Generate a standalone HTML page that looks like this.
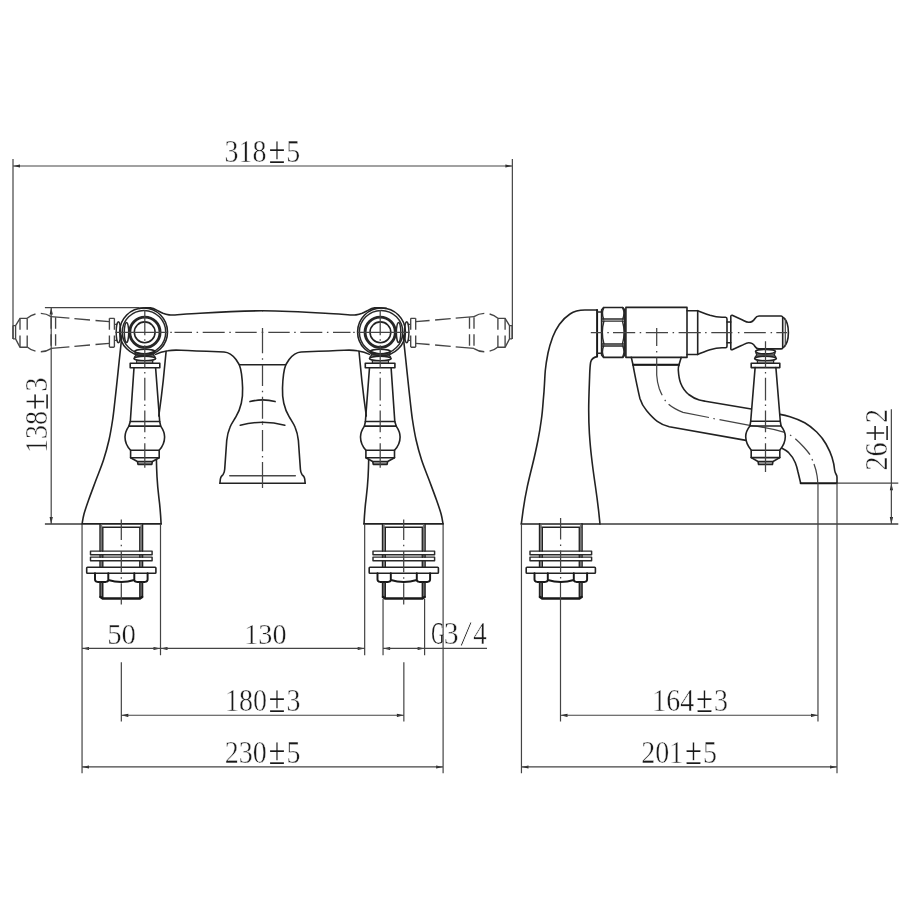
<!DOCTYPE html>
<html lang="en"><head><meta charset="utf-8"><title>Bath filler technical drawing</title>
<style>
html,body{margin:0;padding:0;background:#fff;}
body{width:900px;height:900px;overflow:hidden;}
svg{display:block;filter:grayscale(1);}
.k2{fill:none;stroke:#484848;stroke-width:1.6;stroke-linecap:round;}
.k{fill:none;stroke:#222;stroke-width:1.6;stroke-linecap:round;stroke-linejoin:round;}
.kb{fill:none;stroke:#181818;stroke-width:1.95;stroke-linecap:round;stroke-linejoin:round;}
.kk{fill:none;stroke:#262626;stroke-width:2.9;}
.m{fill:none;stroke:#2a2a2a;stroke-width:1.45;stroke-linecap:round;stroke-linejoin:round;}
.g{fill:none;stroke:#8a8a8a;stroke-width:1.6;}
.gf{fill:#aaa;stroke:none;}
.gw{fill:none;stroke:#777;stroke-width:1.6;}
.n2{fill:none;stroke:#3c3c3c;stroke-width:1.35;}
.n{fill:none;stroke:#444;stroke-width:1.2;}
.c{fill:none;stroke:#444;stroke-width:1.25;}
.h{fill:none;stroke:#454545;stroke-width:1.35;}
.hd{fill:none;stroke:#454545;stroke-width:1.35;stroke-dasharray:11.5 5.6;}
.hd2{fill:none;stroke:#454545;stroke-width:1.35;stroke-dasharray:9.4 5.3 30;}
.a{fill:#1a1a1a;stroke:none;}
.pm{stroke-width:0.2px;}
.sl{stroke-width:0.8px;}
text{font-family:"Liberation Serif","DejaVu Serif",serif;fill:#1a1a1a;stroke:#fff;stroke-width:0.45px;paint-order:fill stroke;stroke-linejoin:round;}
</style></head>
<body>
<svg width="900" height="900" viewBox="0 0 900 900">
<rect x="0" y="0" width="900" height="900" fill="#fff"/>
<g id="front">
<g id="fl">
<path class="h" d="M13,325.6 V338.9 M13,325.6 H15.6 M13,338.9 H15.6 M15.6,325.6 V338.9 M15.6,325.6 L20,318.3 H27.2 M15.6,338.9 L20,347.2 H27.2"/>
<path class="hd" d="M20,318.3 V347.2 M27.2,318.3 V347.2 M51.1,317.2 V347.8 M55.6,317.2 V347.8"/>
<path class="hd2" d="M27.2,318.3 A20,20 0 0 1 51.1,316.6"/>
<path class="hd2" d="M27.2,346.9 A20,20 0 0 0 51.1,348.6"/>
<path class="h" d="M51.1,316.60 L69.4,318.20 M74.4,318.64 L90,320.00 M95.5,320.48 L109.4,321.70 M51.1,348.40 L69.4,346.80 M74.4,346.36 L90,345.00 M95.5,344.52 L109.4,343.30"/>
<path class="hd" d="M109.4,318.3 V347.2 M114.4,318.3 V347.2"/>
<path class="h" d="M109.4,318.3 H114.4 M109.4,347.2 H114.4 M114.4,324.4 H117.3 M114.4,340.4 H117.3"/>
<ellipse class="m" cx="118.4" cy="332.3" rx="2.2" ry="10.5"/>
<ellipse class="m" cx="126.5" cy="332.4" rx="2.2" ry="10"/>
<circle class="k" cx="143.6" cy="331.9" r="23.9"/>
<circle class="m" cx="144" cy="332.2" r="21.7"/>
<circle class="kk" cx="144.9" cy="332.3" r="15.15"/>
<circle class="k" cx="144.7" cy="332.3" r="10.4"/>
<path class="k" d="M139,308.4 C142,307.7 146,307.5 150.4,307.9 C153,308.3 155,309.2 156.7,310.1 C159,311.3 161,312.5 162.9,313.3 C165,314.1 167,314.6 169.1,314.85 C171,315.1 173,315.1 175,314.95 C183,314.4 191,313.8 200,313.3 C222,311.9 244,310.8 262.5,310.8"/>
<path class="k" d="M155.6,354.4 C159,352.6 163,351.5 167.8,350.8 C171,350.2 176,350 181,350.3 C195,351 210,351.5 224,352 C229.5,352.4 233,355.5 236,359.5 L239.3,364.7 C241,369 242.3,378 242.6,388 C242.8,394 242.6,398 241.3,403.3 C240,409 238.5,412.5 236,416.7 C233.5,421 231.5,423.5 230,427.3 C228,432 227.2,436 226.7,440.7 L224.7,469.3 C224.6,471.5 224.2,473 223,474.7 C222,475.8 221.2,476.4 220.8,477.5 C220.4,478.6 220.2,480 220.1,481.5 L220,483.3"/>
<path class="k" d="M239.3,364.7 H262.5"/>
<path class="k" d="M219.8,483.3 H262.5"/>
<path class="k2" d="M229.8,475.8 H262.5"/>
<path class="k" d="M250,401.6 Q256,400 262.5,399.9"/>
<path class="k" d="M240.3,425.2 Q251,422.3 262.5,422.3"/>
<path class="k" d="M122.00,335.00 C121.55,339.17 120.10,352.50 119.30,360.00 C118.50,367.50 117.95,373.00 117.20,380.00 C116.45,387.00 115.57,395.33 114.80,402.00 C114.03,408.67 113.57,413.67 112.60,420.00 C111.63,426.33 110.52,433.33 109.00,440.00 C107.48,446.67 105.67,453.33 103.50,460.00 C101.33,466.67 98.48,473.33 96.00,480.00 C93.52,486.67 90.60,494.33 88.60,500.00 C86.60,505.67 85.09,510.00 84.00,514.00 C82.91,518.00 82.38,522.33 82.05,524.00"/>
<path class="k" d="M166.1,351.5 C165,362 164,372 163.3,380 C162,392 160.5,404 158.8,416"/>
<path class="k" d="M156.4,459.2 C156.5,465 156.7,471 157,476.7 C157.4,484 158.1,491 158.9,497.8 C160,506 160.6,514 161.1,523.9"/>
<ellipse class="k" cx="144.8" cy="351.5" rx="10.2" ry="2.25" fill="#fff"/>
<path class="m" d="M136.2,355 H153.4 M135.4,353.2 L136.2,355 L134.6,356.9 M154.2,353.2 L153.4,355 L155,356.9"/>
<ellipse class="k" cx="144.8" cy="358.5" rx="10.9" ry="2.25" fill="#fff"/>
<path class="m" d="M136.8,360.3 V363.3 M152.6,360.3 V363.3"/><path class="g" d="M137.5,362 H152"/>
<rect class="k" x="130.2" y="363.3" width="29.6" height="4.4"/>
<path class="k" d="M134,367.7 L130.3,421.5 H159.7 L155.6,367.7"/>
<path class="k" d="M130.3,421.5 L128.9,426.1 H160.7 L159.7,421.5"/>
<path class="k" d="M128.9,426.1 C126.2,430 125,433.5 125,437 C125,442 127,446.5 130.6,450.3 M160.7,426.1 C163.4,430 164.6,433.5 164.6,437 C164.6,442 162.6,446.5 159.2,450.3"/>
<path class="k" d="M130.6,450.3 H159.2 V457.7 H130.6 Z"/>
<path class="gf" d="M137.6,461.5 H152.2 L151.8,464.4 H138 Z"/>
<path class="k" d="M130.6,457.7 L137.4,461.5 L138,464.4 H151.8 L152.4,461.5 L159.2,457.7 M137.4,461.5 H152.4"/>
<path class="k" d="M82,523.9 H161.1"/>
<path class="k" d="M100.1,523.9 V551.1 M142.5,523.9 V551.1 M102.7,527.2 V551.1 M139.9,527.2 V551.1 M100.1,527.2 H142.5"/>
<path class="k" d="M100.1,554.7 V557.2 M142.5,554.7 V557.2 M102.7,554.7 V557.2 M139.9,554.7 V557.2"/>
<path class="k" d="M100.1,560.7 V567.2 M142.5,560.7 V567.2 M102.7,560.7 V567.2 M139.9,560.7 V567.2"/>
<path class="gw" d="M101.4,524.5 V551.1 M141.2,524.5 V551.1"/>
<path class="gw" d="M101.4,554.7 V557.2 M141.2,554.7 V557.2"/>
<path class="gw" d="M101.4,560.7 V567.2 M141.2,560.7 V567.2"/>
<path class="gw" d="M101.4,582.5 V597.5 M141.2,582.5 V597.5"/>
<rect class="m" x="90.5" y="551.1" width="61.6" height="3.6"/>
<rect class="m" x="90.5" y="557.1" width="61.6" height="3.6"/>
<rect class="k" x="86.7" y="567.3" width="69.2" height="6" rx="0.8"/>
<path class="kb" d="M95.0,573.3 V579.5 Q95.0,581.6 97.5,581.9 H105.8 Q108.3,581.6 108.3,580 V573.3 M108.3,580 Q121.3,584 134.3,580 V573.3 M134.3,580 Q134.3,581.6 136.8,581.9 H145.1 Q147.6,581.6 147.6,579.5 V573.3"/>
<path class="k" d="M100.1,582 V597 M102.7,582.5 V598 M139.9,582.5 V598 M142.5,582 V597"/>
<path class="kb" style="stroke-width:2.5" d="M100.5,597 L102.7,598.6 H139.9 L142.1,597"/>
</g>
<g transform="matrix(-1 0 0 1 525.1 0)">
<path class="h" d="M13,325.6 V338.9 M13,325.6 H15.6 M13,338.9 H15.6 M15.6,325.6 V338.9 M15.6,325.6 L20,318.3 H27.2 M15.6,338.9 L20,347.2 H27.2"/>
<path class="hd" d="M20,318.3 V347.2 M27.2,318.3 V347.2 M51.1,317.2 V347.8 M55.6,317.2 V347.8"/>
<path class="hd2" d="M27.2,318.3 A20,20 0 0 1 51.1,316.6"/>
<path class="hd2" d="M27.2,346.9 A20,20 0 0 0 51.1,348.6"/>
<path class="h" d="M51.1,316.60 L69.4,318.20 M74.4,318.64 L90,320.00 M95.5,320.48 L109.4,321.70 M51.1,348.40 L69.4,346.80 M74.4,346.36 L90,345.00 M95.5,344.52 L109.4,343.30"/>
<path class="hd" d="M109.4,318.3 V347.2 M114.4,318.3 V347.2"/>
<path class="h" d="M109.4,318.3 H114.4 M109.4,347.2 H114.4 M114.4,324.4 H117.3 M114.4,340.4 H117.3"/>
<ellipse class="m" cx="118.4" cy="332.3" rx="2.2" ry="10.5"/>
<ellipse class="m" cx="126.5" cy="332.4" rx="2.2" ry="10"/>
<circle class="k" cx="143.6" cy="331.9" r="23.9"/>
<circle class="m" cx="144" cy="332.2" r="21.7"/>
<circle class="kk" cx="144.9" cy="332.3" r="15.15"/>
<circle class="k" cx="144.7" cy="332.3" r="10.4"/>
<path class="k" d="M139,308.4 C142,307.7 146,307.5 150.4,307.9 C153,308.3 155,309.2 156.7,310.1 C159,311.3 161,312.5 162.9,313.3 C165,314.1 167,314.6 169.1,314.85 C171,315.1 173,315.1 175,314.95 C183,314.4 191,313.8 200,313.3 C222,311.9 244,310.8 262.5,310.8"/>
<path class="k" d="M155.6,354.4 C159,352.6 163,351.5 167.8,350.8 C171,350.2 176,350 181,350.3 C195,351 210,351.5 224,352 C229.5,352.4 233,355.5 236,359.5 L239.3,364.7 C241,369 242.3,378 242.6,388 C242.8,394 242.6,398 241.3,403.3 C240,409 238.5,412.5 236,416.7 C233.5,421 231.5,423.5 230,427.3 C228,432 227.2,436 226.7,440.7 L224.7,469.3 C224.6,471.5 224.2,473 223,474.7 C222,475.8 221.2,476.4 220.8,477.5 C220.4,478.6 220.2,480 220.1,481.5 L220,483.3"/>
<path class="k" d="M239.3,364.7 H262.5"/>
<path class="k" d="M219.8,483.3 H262.5"/>
<path class="k2" d="M229.8,475.8 H262.5"/>
<path class="k" d="M250,401.6 Q256,400 262.5,399.9"/>
<path class="k" d="M240.3,425.2 Q251,422.3 262.5,422.3"/>
<path class="k" d="M122.00,335.00 C121.55,339.17 120.10,352.50 119.30,360.00 C118.50,367.50 117.95,373.00 117.20,380.00 C116.45,387.00 115.57,395.33 114.80,402.00 C114.03,408.67 113.57,413.67 112.60,420.00 C111.63,426.33 110.52,433.33 109.00,440.00 C107.48,446.67 105.67,453.33 103.50,460.00 C101.33,466.67 98.48,473.33 96.00,480.00 C93.52,486.67 90.60,494.33 88.60,500.00 C86.60,505.67 85.09,510.00 84.00,514.00 C82.91,518.00 82.38,522.33 82.05,524.00"/>
<path class="k" d="M166.1,351.5 C165,362 164,372 163.3,380 C162,392 160.5,404 158.8,416"/>
<path class="k" d="M156.4,459.2 C156.5,465 156.7,471 157,476.7 C157.4,484 158.1,491 158.9,497.8 C160,506 160.6,514 161.1,523.9"/>
<ellipse class="k" cx="144.8" cy="351.5" rx="10.2" ry="2.25" fill="#fff"/>
<path class="m" d="M136.2,355 H153.4 M135.4,353.2 L136.2,355 L134.6,356.9 M154.2,353.2 L153.4,355 L155,356.9"/>
<ellipse class="k" cx="144.8" cy="358.5" rx="10.9" ry="2.25" fill="#fff"/>
<path class="m" d="M136.8,360.3 V363.3 M152.6,360.3 V363.3"/><path class="g" d="M137.5,362 H152"/>
<rect class="k" x="130.2" y="363.3" width="29.6" height="4.4"/>
<path class="k" d="M134,367.7 L130.3,421.5 H159.7 L155.6,367.7"/>
<path class="k" d="M130.3,421.5 L128.9,426.1 H160.7 L159.7,421.5"/>
<path class="k" d="M128.9,426.1 C126.2,430 125,433.5 125,437 C125,442 127,446.5 130.6,450.3 M160.7,426.1 C163.4,430 164.6,433.5 164.6,437 C164.6,442 162.6,446.5 159.2,450.3"/>
<path class="k" d="M130.6,450.3 H159.2 V457.7 H130.6 Z"/>
<path class="gf" d="M137.6,461.5 H152.2 L151.8,464.4 H138 Z"/>
<path class="k" d="M130.6,457.7 L137.4,461.5 L138,464.4 H151.8 L152.4,461.5 L159.2,457.7 M137.4,461.5 H152.4"/>
<path class="k" d="M82,523.9 H161.1"/>
<path class="k" d="M100.1,523.9 V551.1 M142.5,523.9 V551.1 M102.7,527.2 V551.1 M139.9,527.2 V551.1 M100.1,527.2 H142.5"/>
<path class="k" d="M100.1,554.7 V557.2 M142.5,554.7 V557.2 M102.7,554.7 V557.2 M139.9,554.7 V557.2"/>
<path class="k" d="M100.1,560.7 V567.2 M142.5,560.7 V567.2 M102.7,560.7 V567.2 M139.9,560.7 V567.2"/>
<path class="gw" d="M101.4,524.5 V551.1 M141.2,524.5 V551.1"/>
<path class="gw" d="M101.4,554.7 V557.2 M141.2,554.7 V557.2"/>
<path class="gw" d="M101.4,560.7 V567.2 M141.2,560.7 V567.2"/>
<path class="gw" d="M101.4,582.5 V597.5 M141.2,582.5 V597.5"/>
<rect class="m" x="90.5" y="551.1" width="61.6" height="3.6"/>
<rect class="m" x="90.5" y="557.1" width="61.6" height="3.6"/>
<rect class="k" x="86.7" y="567.3" width="69.2" height="6" rx="0.8"/>
<path class="kb" d="M95.0,573.3 V579.5 Q95.0,581.6 97.5,581.9 H105.8 Q108.3,581.6 108.3,580 V573.3 M108.3,580 Q121.3,584 134.3,580 V573.3 M134.3,580 Q134.3,581.6 136.8,581.9 H145.1 Q147.6,581.6 147.6,579.5 V573.3"/>
<path class="k" d="M100.1,582 V597 M102.7,582.5 V598 M139.9,582.5 V598 M142.5,582 V597"/>
<path class="kb" style="stroke-width:2.5" d="M100.5,597 L102.7,598.6 H139.9 L142.1,597"/>
</g>
<path class="c" d="M115.4,332.4 H167.5 M170.3,332.4 H171.8 M174.5,332.4 H192 M196.6,332.4 H198.1 M202.7,332.4 H224.7 M229.3,332.4 H230.8 M235.3,332.4 H256.7 M409.6,332.4 H357.5 M354.7,332.4 H353.2 M350.5,332.4 H333 M328.4,332.4 H326.9 M322.3,332.4 H300.3 M295.7,332.4 H294.2 M289.7,332.4 H268.3 M261.7,332.4 H263.3"/>
<path class="c" d="M262.5,328 V353.3 M262.5,358.3 V359.8 M262.5,364.7 V386 M262.5,390.8 V392.3 M262.5,396.7 V418.7 M262.5,423.3 V424.8 M262.5,430 V451.3 M262.5,456 V457.5 M262.5,462 V488"/>
<path class="c" d="M144.8,310 V335.3 M144.8,339.3 V340.8 M144.8,345.3 V367.8 M144.8,372 V373.5 M144.8,377.8 V400.6 M144.8,404.6 V406.1 M144.8,410.6 V432.2 M144.8,437 V438.5 M144.8,443.3 V467.8"/>
<path class="c" d="M380.2,310 V335.3 M380.2,339.3 V340.8 M380.2,345.3 V367.8 M380.2,372 V373.5 M380.2,377.8 V400.6 M380.2,404.6 V406.1 M380.2,410.6 V432.2 M380.2,437 V438.5 M380.2,443.3 V467.8"/>
<path class="c" d="M121.3,519.4 V540 M121.3,544.8 V546.3 M121.3,551 V572.3 M121.3,577.2 V578.7 M121.3,583.3 V604.4"/>
<path class="c" d="M403.7,519.4 V540 M403.7,544.8 V546.3 M403.7,551 V572.3 M403.7,577.2 V578.7 M403.7,583.3 V604.4"/>
</g>
<g id="side">
<path class="k" d="M596.9,310 H585 C578,310 573.5,311.5 570,314 C565.5,317 562,320.5 559.3,324.5 C556.5,328.5 554.5,332.5 552.7,337 C550.5,343 549,348 548,353 C546.8,359 545.8,365 545.3,370.5 C544.8,376 544.8,379 544.5,383.5 C544.2,390 543.8,395 543.2,401 C542.7,408 542.2,414 541.3,420 C540.3,427.5 539.3,433.5 538,440 C536.3,448.5 534.7,456 532.7,464 C530.7,472 528.8,479.5 527.3,486.7 C525.3,496 523.8,505 522.7,513.3 L521.3,524" />
<path class="k" d="M596.9,356.6 C593.5,357.3 591.5,359 590.7,362 C589.9,366 589.8,371.5 589.6,377 C589.2,388 588.7,399 588.7,410 C588.7,418 588.9,426 589.4,433.5 C589.9,441 590.5,448.5 591.4,456 C592.5,466 593.9,476 595.3,485.5 C596.9,496.5 598.3,507 599.3,517.3 L600,524" />
<path class="kb" d="M597.1,310 V356.6" />
<path class="m" d="M597,311.9 H601.6 M597,353.3 H601.6" />
<path class="k" d="M603.6,307.5 H622.8 L624.8,310 V354.9 L622.8,357.4 H603.6 L601.6,354.9 V310 Z" />
<path class="m" d="M601.6,319 H624.8 M601.6,321.1 H624.8 M601.6,343.9 H624.8 M601.6,346 H624.8" />
<path class="m" d="M603.8000000000001,307.6 Q601.2,313 603.6,319 M622.5999999999999,307.6 Q625.1999999999999,313 622.8,319" />
<path class="m" d="M603.8000000000001,357.3 Q601.2,352 603.6,346 M622.5999999999999,357.3 Q625.1999999999999,352 622.8,346" />
<path class="m" d="M603.9,321.1 Q600.7,332.5 603.9,343.9 M622.5,321.1 Q625.6999999999999,332.5 622.5,343.9" />
<rect class="k" x="625.9" y="307.4" width="61.1" height="50" />
<path class="k" d="M631.3,357.4 L633,364.7 H679 L681.2,357.4" />
<path class="kb" d="M633,364.7 H679" />
<path class="k" d="M687,310.7 H697.7 V354.5 H687" />
<path class="k" d="M697.7,310.7 C702,312.3 706,314 710,315.3 C714.5,316.6 718.5,317.2 722,317.3 H725.5 Q727,317.4 727,319 V346.2 Q727,347.7 725.5,347.8 H722 C718.5,347.9 714.5,348.5 710,349.8 C706,351 702,352.8 697.7,354.5" />
<path class="k" d="M727,322 H730.8 M727,342.8 H730.8" />
<path class="k" d="M732.2,315.3 L742,319.8 C745,321.3 746.5,322.3 748.7,322.3 C751.5,322.3 753.5,321 755,318.5 C756,316.8 757,316 759,316 H781.2 Q782.7,316.1 782.7,317.5 V347.4 Q782.7,348.8 781.2,348.9 H759 C757,348.9 756,348.2 755,346.5 C753.5,344 751.5,342.8 748.7,342.8 C746.5,342.8 745,343.8 742,345.3 L732.2,349.8 Q730.8,350 730.8,348.5 V316.6 Q730.8,315 732.2,315.3 Z" />
<path class="k" d="M783.6,317.6 C786.8,320.5 788.4,326 788.4,332.5 C788.4,339 786.8,344.5 783.6,347.4" />
<path class="n" d="M785.3,318.5 V346.5" />
<path class="k" d="M633,364.7 C634,371 635.3,377 636.6,383.3 C638,390 639,395 640,398.7 C641.5,403.5 643.5,407 646.7,410.7 C650,414.7 653.5,418.5 657.3,421.3 C661,424 664.5,425.7 669.3,426.7 L746,440.4" />
<path class="k" d="M679,364.7 C678.3,367 678.2,368.5 678.3,370 C678.6,375 679.2,379.5 680.7,383.3 C682.5,388 685,391.5 688.7,394.5 C692,397 695.5,399 699.3,400 C701.5,400.6 703.5,400.9 705.3,401.2 L751.3,409" />
<path class="k" d="M780,414.4 C783.5,415 786.5,415.7 790,416.8 C795.5,418.5 800.5,420.5 804.7,422.8 C809,425.3 813,428.5 816.7,432 C820.5,435.8 823.5,439.5 826,444 C828.5,448.5 830.5,452.5 832,457.3 C833.5,462 834.3,466 834.7,470.5 C835,472.5 835.6,473.5 836.2,474.5 C836.8,475.5 837,476.5 837,477.5 V483.2" />
<path class="k" d="M782,448.3 C784.5,449.5 786.5,450.7 788.7,452.7 C791.5,455.5 793.7,458.8 795.3,462.7 C796.5,465.7 797.3,468.5 798,472 L800.7,483.2" />
<path class="kb" d="M800.7,483.2 H837" />
<path class="c" d="M656.7,357.4 V375" />
<path class="c" d="M656.7,375 C657,380 657.8,384.5 659.3,388.7 C660.5,391.8 661.3,393.6 662.2,395.2" />
<path class="c" d="M664.8,399.9 L665.6,401.1" />
<path class="c" d="M668.6,404.2 C670.5,405.8 672.5,407.2 675,408.6 C678,410.3 680.5,411.5 683,412.4 L709,417.5" />
<path class="c" d="M713.3,418.5 L714.8,418.8" />
<path class="c" d="M719.5,419.6 L751,425.6" />
<path class="c" d="M751,425.6 C763,427 774,429.2 784.7,432.3" />
<path class="c" d="M790,435 L791.3,435.7" />
<path class="c" d="M795.3,438.7 C798,441 801,444 803.7,447 C806.2,449.8 808.3,452.2 810,454.7" />
<path class="c" d="M812,459 L812.6,460.5" />
<path class="c" d="M814,464 C815.5,468 816.5,472 817.1,476 C817.5,478.5 817.7,480.5 817.7,483" />
<ellipse class="k" cx="765.5" cy="351.6" rx="10" ry="2.25" fill="#fff"/>
<path class="m" d="M756.9,355 H774.1 M756.1,353.2 L756.9,355 L755.3,356.9 M774.9,353.2 L774.1,355 L775.7,356.9" />
<ellipse class="k" cx="765.5" cy="358.5" rx="10.9" ry="2.25" fill="#fff"/>
<path class="m" d="M757.5,360.3 V363.2 M773.5,360.3 V363.2" />
<path class="g" d="M758.2,362 H772.8" />
<rect class="k" x="751.2" y="363.2" width="28.6" height="4.4"/>
<path class="k" d="M755.1,367.6 L750.7,421.3 H780.3 L775.9,367.6" />
<path class="k" d="M750.7,421.3 L749.9,426 H781.1 L780.3,421.3" />
<path class="k" d="M749.9,426 C746.8,430 745.7,433 745.7,436.5 C745.7,441.5 747.8,446 751.1,450 M781.1,426 C784.2,430 785.3,433 785.3,436.5 C785.3,441.5 783.2,446 779.9,450" />
<path class="k" d="M751.2,450.2 H779.8 V457.6 H751.2 Z" />
<path class="gf" d="M758.2,461.5 H772.8 L772.4,464.5 H758.6 Z" />
<path class="k" d="M751.2,457.6 L758.0,461.5 L758.6,464.5 H772.4 L773.0,461.5 L779.8,457.6 M758.0,461.5 H773.0" />
<path class="c" d="M765.5,341.3 V367.8 M765.5,372 V373.5 M765.5,377.8 V400.6 M765.5,404.6 V406.1 M765.5,410.6 V432.2 M765.5,437 V438.5 M765.5,443.3 V472" />
<path class="k" d="M521.3,524 H600" />
<path class="k" d="M539.6,523.9 V551.1 M582.0,523.9 V551.1 M542.2,527.2 V551.1 M579.4,527.2 V551.1 M539.6,527.2 H582.0"/>
<path class="k" d="M539.6,554.7 V557.2 M582.0,554.7 V557.2 M542.2,554.7 V557.2 M579.4,554.7 V557.2"/>
<path class="k" d="M539.6,560.7 V567.2 M582.0,560.7 V567.2 M542.2,560.7 V567.2 M579.4,560.7 V567.2"/>
<path class="gw" d="M540.9,524.5 V551.1 M580.7,524.5 V551.1"/>
<path class="gw" d="M540.9,554.7 V557.2 M580.7,554.7 V557.2"/>
<path class="gw" d="M540.9,560.7 V567.2 M580.7,560.7 V567.2"/>
<path class="gw" d="M540.9,582.5 V597.5 M580.7,582.5 V597.5"/>
<rect class="m" x="530.0" y="551.1" width="61.6" height="3.6"/>
<rect class="m" x="530.0" y="557.1" width="61.6" height="3.6"/>
<rect class="k" x="526.2" y="567.3" width="69.2" height="6" rx="0.8"/>
<path class="kb" d="M534.5,573.3 V579.5 Q534.5,581.6 537.0,581.9 H545.3 Q547.8,581.6 547.8,580 V573.3 M547.8,580 Q560.8,584 573.8,580 V573.3 M573.8,580 Q573.8,581.6 576.3,581.9 H584.6 Q587.1,581.6 587.1,579.5 V573.3"/>
<path class="k" d="M539.6,582 V597 M542.2,582.5 V598 M579.4,582.5 V598 M582.0,582 V597"/>
<path class="kb" style="stroke-width:2.5" d="M540.0,597 L542.2,598.6 H579.4 L581.6,597"/>
<path class="c" d="M560.6,518 V539.5 M560.6,544.5 V546 M560.6,550.5 V572 M560.6,577 V578.5" />
<path class="c" d="M590.8,332.6 H601.9 M607.3,332.6 H608.8 M613,332.6 H635.2 M639.7,332.6 H641.2 M645.8,332.6 H668 M672.6,332.6 H674.1 M678.6,332.6 H700.8 M705.1,332.6 H706.6 M711.3,332.6 H732.4 M737.9,332.6 H739.4 M744.1,332.6 H765.8 M770.6,332.6 H772.1 M776.3,332.6 H787" />
<path class="c" d="M656.7,328 V346 M656.7,351 V352.4" />
</g>
<g id="dims">
<path class="a" d="M13.0,166.0 L20.0,164.4 L20.0,167.6 Z"/>
<path class="a" d="M512.4,166.0 L505.4,167.6 L505.4,164.4 Z"/>
<path class="a" d="M51.2,307.6 L52.8,314.6 L49.6,314.6 Z"/>
<path class="a" d="M51.2,524.0 L49.6,517.0 L52.8,517.0 Z"/>
<path class="a" d="M82.0,648.5 L89.0,646.9 L89.0,650.1 Z"/>
<path class="a" d="M160.5,648.5 L153.5,650.1 L153.5,646.9 Z"/>
<path class="a" d="M160.5,648.5 L167.5,646.9 L167.5,650.1 Z"/>
<path class="a" d="M364.7,648.5 L357.7,650.1 L357.7,646.9 Z"/>
<path class="a" d="M383.1,648.5 L390.1,646.9 L390.1,650.1 Z"/>
<path class="a" d="M424.6,648.5 L417.6,650.1 L417.6,646.9 Z"/>
<path class="a" d="M121.3,715.3 L128.3,713.7 L128.3,716.9 Z"/>
<path class="a" d="M403.9,715.3 L396.9,716.9 L396.9,713.7 Z"/>
<path class="a" d="M82.0,767.0 L89.0,765.4 L89.0,768.6 Z"/>
<path class="a" d="M443.1,767.0 L436.1,768.6 L436.1,765.4 Z"/>
<path class="a" d="M560.5,715.3 L567.5,713.7 L567.5,716.9 Z"/>
<path class="a" d="M818.0,715.3 L811.0,716.9 L811.0,713.7 Z"/>
<path class="a" d="M521.5,767.0 L528.5,765.4 L528.5,768.6 Z"/>
<path class="a" d="M837.0,767.0 L830.0,768.6 L830.0,765.4 Z"/>
<path class="n2" d="M600,523.95 H898.3 M44.9,524 H82"/>
<path class="a" d="M891.4,483.2 L893.0,490.2 L889.8,490.2 Z"/>
<path class="a" d="M891.4,524.0 L889.8,517.0 L893.0,517.0 Z"/>
<path class="n" d="M13,159.1 V338.9 M512.36,159.1 V338.9 M13,166 H512.36 M44.9,307.55 H139 M51.2,307.55 V524.05 M82.05,524 V773.3 M443.1,524 V773.3 M160.5,524 V655.2 M364.67,524 V655.2 M383.05,599 V655.2 M424.6,599 V655.2 M82.05,648.47 H364.67 M383.05,648.47 H487 M121.33,662.2 V721.5 M403.85,662.2 V721.5 M121.33,715.27 H403.85 M82.05,766.95 H443.1 M521.45,524 V773.3 M837,483.2 V773.3 M560.5,583 V721.5 M817.97,483.2 V721.5 M560.5,715.27 H817.97 M521.45,766.95 H837 M837,483.2 H898.3 M891.35,409.3 V524"/>
<text transform="translate(0 162.0)" y="0" font-size="31.2"><tspan x="224.60" y="0" textLength="42.00" lengthAdjust="spacingAndGlyphs">318</tspan><tspan x="268.64" y="1" textLength="16.52" lengthAdjust="spacingAndGlyphs" font-size="38.5" class="pm">±</tspan><tspan x="286.20" y="0" textLength="14.00" lengthAdjust="spacingAndGlyphs">5</tspan></text>
<text transform="translate(47.3 453.1) rotate(-90)" y="0" font-size="31.2"><tspan x="0.00" y="0" textLength="42.00" lengthAdjust="spacingAndGlyphs">138</tspan><tspan x="43.24" y="1" textLength="16.52" lengthAdjust="spacingAndGlyphs" font-size="38.5" class="pm">±</tspan><tspan x="61.60" y="0" textLength="14.00" lengthAdjust="spacingAndGlyphs">3</tspan></text>
<text transform="translate(0 644.0)" y="0" font-size="29.8"><tspan x="107.13" y="0" textLength="28.87" lengthAdjust="spacingAndGlyphs">50</tspan></text>
<text transform="translate(0 644.0)" y="0" font-size="29.8"><tspan x="244.21" y="0" textLength="42.36" lengthAdjust="spacingAndGlyphs">130</tspan></text>
<text transform="translate(0 644.1)" y="0" font-size="31.2"><tspan x="431.15" y="0" textLength="13.22" lengthAdjust="spacingAndGlyphs" class="pm">G</tspan><tspan x="443.87" y="0" textLength="14.89" lengthAdjust="spacingAndGlyphs">3</tspan><tspan x="460.00" y="1.6" textLength="12.19" lengthAdjust="spacingAndGlyphs" font-size="36.5" class="sl">/</tspan><tspan x="473.36" y="0" textLength="13.47" lengthAdjust="spacingAndGlyphs">4</tspan></text>
<text transform="translate(0 710.8)" y="0" font-size="31.2"><tspan x="224.90" y="0" textLength="42.00" lengthAdjust="spacingAndGlyphs">180</tspan><tspan x="268.74" y="1" textLength="16.52" lengthAdjust="spacingAndGlyphs" font-size="38.5" class="pm">±</tspan><tspan x="286.50" y="0" textLength="14.00" lengthAdjust="spacingAndGlyphs">3</tspan></text>
<text transform="translate(0 762.6)" y="0" font-size="31.2"><tspan x="224.80" y="0" textLength="42.00" lengthAdjust="spacingAndGlyphs">230</tspan><tspan x="268.64" y="1" textLength="16.52" lengthAdjust="spacingAndGlyphs" font-size="38.5" class="pm">±</tspan><tspan x="286.40" y="0" textLength="14.00" lengthAdjust="spacingAndGlyphs">5</tspan></text>
<text transform="translate(0 710.8)" y="0" font-size="31.2"><tspan x="652.30" y="0" textLength="42.00" lengthAdjust="spacingAndGlyphs">164</tspan><tspan x="696.24" y="1" textLength="16.52" lengthAdjust="spacingAndGlyphs" font-size="38.5" class="pm">±</tspan><tspan x="713.90" y="0" textLength="14.00" lengthAdjust="spacingAndGlyphs">3</tspan></text>
<text transform="translate(0 762.6)" y="0" font-size="31.2"><tspan x="641.30" y="0" textLength="42.00" lengthAdjust="spacingAndGlyphs">201</tspan><tspan x="685.24" y="1" textLength="16.52" lengthAdjust="spacingAndGlyphs" font-size="38.5" class="pm">±</tspan><tspan x="702.90" y="0" textLength="14.00" lengthAdjust="spacingAndGlyphs">5</tspan></text>
<text transform="translate(887.3 470.5) rotate(-90)" y="0" font-size="31.2"><tspan x="0.00" y="0" textLength="28.00" lengthAdjust="spacingAndGlyphs">26</tspan><tspan x="29.14" y="1" textLength="16.52" lengthAdjust="spacingAndGlyphs" font-size="38.5" class="pm">±</tspan><tspan x="47.60" y="0" textLength="14.00" lengthAdjust="spacingAndGlyphs">2</tspan></text>
</g>
</svg>
</body></html>
